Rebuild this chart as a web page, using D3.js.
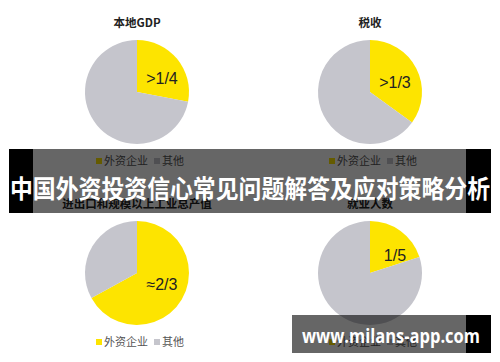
<!DOCTYPE html>
<html>
<head>
<meta charset="utf-8">
<script src="https://cdn.jsdelivr.net/npm/d3@7"></script>
<style>
  body { margin: 0; background: #fff; }
  svg { display: block; font-family: "Noto Sans CJK SC", "Noto Sans", sans-serif; }
</style>
</head>
<body>
<div class="canva"></div>
<script>
const chartTitles = ["本地GDP", "税收", "进出口和规模以上工业总产值", "就业人数"];
const foreignShare = [0.28, 0.35, 0.67, 0.20];
const shareLabels = [">1/4", ">1/3", "≈2/3", "1/5"];
const seriesNames = ["外资企业", "其他"];
const seriesColors = ["#fde400", "#c5c5cc"];

const svg = d3.select(".canva").append("svg")
    .attr("width", 500)
    .attr("height", 362);

const radius = 52;
const cellX = d3.scalePoint().domain([0, 1]).range([137, 370]);
const cellY = d3.scalePoint().domain([0, 1]).range([0, 181]);
const color = d3.scaleOrdinal().domain(seriesNames).range(seriesColors);

const pie = d3.pie().sort(null).value(d => d.value);
const arc = d3.arc().innerRadius(0).outerRadius(radius);

chartTitles.forEach((title, i) => {
    const col = i % 2, row = Math.floor(i / 2);
    const g = svg.append("g").attr("transform", `translate(${cellX(col)}, ${cellY(row)})`);

    g.append("text")
        .attr("x", 0)
        .attr("y", 27)
        .attr("text-anchor", "middle")
        .style("font-size", "11.5px")
        .style("font-weight", "bold")
        .style("fill", "#222")
        .text(title);

    const data = [
        {name: seriesNames[0], value: foreignShare[i]},
        {name: seriesNames[1], value: 1 - foreignShare[i]}
    ];

    const pieG = g.append("g").attr("transform", "translate(0, 92)");
    const arcs = pie(data);
    pieG.selectAll("path")
        .data(arcs)
        .enter()
        .append("path")
        .attr("d", arc)
        .attr("fill", d => color(d.data.name));

    // label sits right of centre, nudged up or down by the slice's mid angle
    const a = arcs[0];
    const mid = (a.startAngle + a.endAngle) / 2;
    pieG.append("text")
        .attr("x", radius * 0.48)
        .attr("y", -Math.cos(mid) * 22)
        .attr("dy", "0.35em")
        .attr("text-anchor", "middle")
        .style("font-family", "Liberation Sans, Arial, sans-serif")
        .style("font-size", "16px")
        .style("fill", "#222")
        .text(shareLabels[i]);

    const legend = g.append("g").attr("transform", "translate(-41, 161)");
    let off = 0;
    seriesNames.forEach(name => {
        legend.append("rect")
            .attr("x", off)
            .attr("y", -3)
            .attr("width", 6)
            .attr("height", 6)
            .attr("fill", color(name));
        legend.append("text")
            .attr("x", off + 8)
            .attr("y", 0)
            .attr("dy", "0.35em")
            .style("font-size", "11px")
            .style("fill", "#555")
            .text(name);
        off += 58;
    });
});

// title banner
const banner = svg.append("g");
banner.append("rect").attr("x", 9).attr("y", 149).attr("width", 482).attr("height", 64)
    .attr("fill", "#000").attr("opacity", 0.6);
banner.append("rect").attr("x", 9).attr("y", 149).attr("width", 24).attr("height", 64).attr("fill", "#000");
banner.append("rect").attr("x", 466).attr("y", 149).attr("width", 25).attr("height", 64).attr("fill", "#000");
banner.append("text")
    .attr("x", 250)
    .attr("y", 189)
    .attr("dy", "0.35em")
    .attr("text-anchor", "middle")
    .attr("textLength", 480)
    .attr("lengthAdjust", "spacingAndGlyphs")
    .style("font-size", "25px")
    .style("font-weight", "bold")
    .style("fill", "#fff")
    .text("中国外资投资信心常见问题解答及应对策略分析");

// watermark
const wm = svg.append("g");
wm.append("rect").attr("x", 292).attr("y", 315).attr("width", 199).attr("height", 38)
    .attr("fill", "#000").attr("opacity", 0.6);
wm.append("rect").attr("x", 466).attr("y", 315).attr("width", 25).attr("height", 38).attr("fill", "#000");
wm.append("text")
    .attr("x", 391)
    .attr("y", 336)
    .attr("dy", "0.35em")
    .attr("text-anchor", "middle")
    .attr("textLength", 178)
    .attr("lengthAdjust", "spacingAndGlyphs")
    .style("font-family", "Open Sans, sans-serif")
    .style("font-size", "20px")
    .style("font-weight", "bold")
    .style("fill", "#fff")
    .text("www.milans-app.com");
</script>
</body>
</html>
